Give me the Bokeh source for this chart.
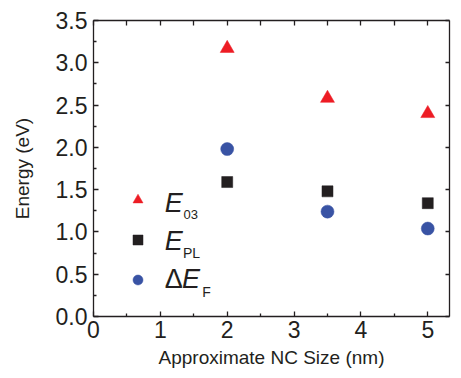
from bokeh.plotting import figure
from bokeh.models import Range1d, LinearAxis, Legend, LegendItem, Label, FixedTicker
from bokeh.core.properties import value
from bokeh.embed import file_html
from bokeh.resources import INLINE

# ---- data ----
nc_size = [2.0, 3.5, 5.0]
e03 = [3.17, 2.58, 2.40]
epl = [1.59, 1.48, 1.34]
delta_ef = [1.98, 1.24, 1.04]

x_ticks = [0, 1, 2, 3, 4, 5]
x_minor = [0.5, 1.5, 2.5, 3.5, 4.5]
y_ticks = [0.0, 0.5, 1.0, 1.5, 2.0, 2.5, 3.0, 3.5]
y_minor = [0.25, 0.75, 1.25, 1.75, 2.25, 2.75, 3.25]
y_tick_labels = ["0.0", "0.5", "1.0", "1.5", "2.0", "2.5", "3.0", "3.5"]

INK = "#231F20"
RED = "#ED1C24"
BLUE = "#3953A4"
FONT = "Liberation Sans"

p = figure(width=453, height=370,
           x_range=Range1d(0, 5.325), y_range=Range1d(0, 3.5),
           output_backend="svg", toolbar_location=None,
           x_axis_location=None, y_axis_location=None,
           min_border_left=93, min_border_right=0,
           min_border_top=20, min_border_bottom=54)
p.outline_line_color = None
p.xgrid.visible = False
p.ygrid.visible = False
p.background_fill_color = "white"
p.border_fill_color = "white"


def style_axis(ax, minor=True, labels=True):
    ax.axis_line_color = INK
    ax.axis_line_width = 1.3
    ax.major_tick_line_color = INK
    ax.major_tick_line_width = 1.3
    ax.major_tick_in = 5
    ax.major_tick_out = 0
    if minor:
        ax.minor_tick_line_color = INK
        ax.minor_tick_line_width = 1.3
        ax.minor_tick_in = 3
        ax.minor_tick_out = 0
    else:
        ax.minor_tick_line_color = None
    if labels:
        ax.major_label_text_font = FONT
        ax.major_label_text_font_size = "23px"
        ax.major_label_text_color = INK
        ax.axis_label_text_font = FONT
        ax.axis_label_text_font_size = "19px"
        ax.axis_label_text_font_style = "normal"
        ax.axis_label_text_color = INK
    else:
        ax.major_label_text_font_size = "0px"
        ax.major_label_text_color = None
        ax.major_label_standoff = 0


xt = FixedTicker(ticks=x_ticks, minor_ticks=x_minor)
yt = FixedTicker(ticks=y_ticks, minor_ticks=y_minor)

xb = LinearAxis(ticker=xt, axis_label="Approximate NC Size (nm)")
style_axis(xb)
xb.major_label_standoff = 4
xb.axis_label_standoff = 6
p.add_layout(xb, "below")

yl = LinearAxis(ticker=yt, axis_label="Energy (eV)",
                major_label_overrides={t: s for t, s in zip(y_ticks, y_tick_labels)})
style_axis(yl)
yl.major_label_standoff = 6
yl.axis_label_standoff = 20
p.add_layout(yl, "left")

xtop = LinearAxis(ticker=FixedTicker(ticks=x_ticks, minor_ticks=x_minor))
style_axis(xtop, labels=False)
xtop.minor_tick_in = 5
p.add_layout(xtop, "above")

yr = LinearAxis(ticker=FixedTicker(ticks=y_ticks, minor_ticks=y_minor))
style_axis(yr, minor=False, labels=False)
yr.major_tick_in = 4
p.add_layout(yr, "right")

r_e03 = p.scatter(nc_size, e03, marker="triangle", size=14,
                  fill_color=RED, line_color=RED, line_width=0.5)
r_epl = p.scatter(nc_size, epl, marker="square", size=11,
                  fill_color=INK, line_color=INK, line_width=0.5)
r_def = p.scatter(nc_size, delta_ef, marker="circle", size=13,
                  fill_color=BLUE, line_color=BLUE, line_width=0.5)

legend = Legend(items=[LegendItem(label=value(" "), renderers=[r_e03]),
                       LegendItem(label=value(" "), renderers=[r_epl]),
                       LegendItem(label=value(" "), renderers=[r_def])],
                location=(31.5, 24.5), orientation="vertical",
                glyph_width=25, glyph_height=25, label_height=25, label_width=1,
                spacing=15, padding=0, margin=0, label_standoff=0,
                border_line_color=None, background_fill_alpha=0,
                label_text_font_size="1px")
p.add_layout(legend)


def lab(x, y, text, size, italic=False):
    p.add_layout(Label(x=x, y=y, text=text, text_font=FONT,
                       text_font_size=size,
                       text_font_style="italic" if italic else "normal",
                       text_color=INK, text_baseline="alphabetic",
                       text_align="left"))


lab(1.065, 1.340, "E", "27px", italic=True)
lab(1.346, 1.21, "03", "13px")
lab(1.065, 0.887, "E", "27px", italic=True)
lab(1.339, 0.75, "PL", "14px")
lab(1.065, 0.438, "Δ", "27px")
lab(1.325, 0.438, "E", "27px", italic=True)
lab(1.625, 0.29, "F", "14px")

open("out.html", "w").write(file_html(p, INLINE))
